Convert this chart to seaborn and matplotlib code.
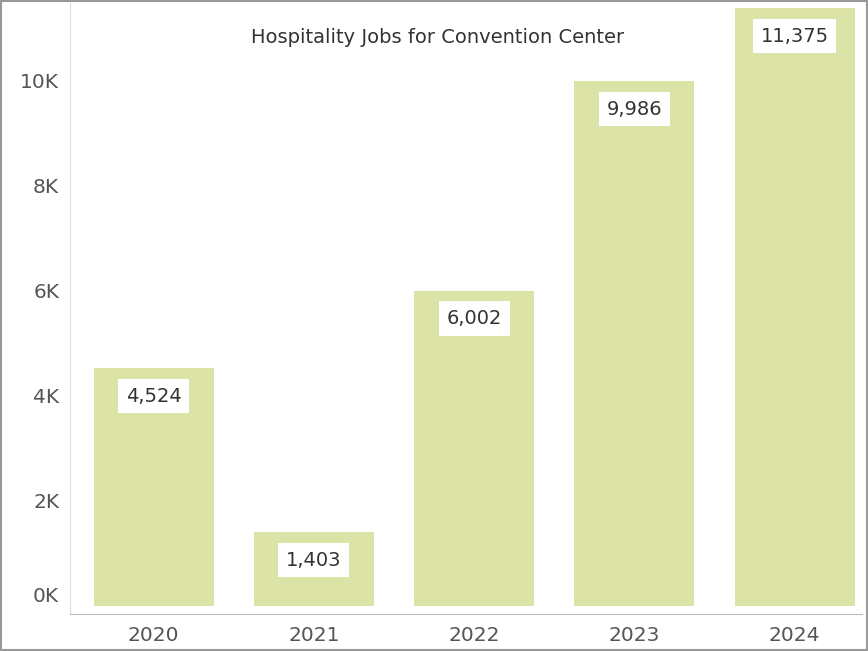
import matplotlib
matplotlib.use("Agg")
import matplotlib.pyplot as plt
import seaborn as sns
import pandas as pd

years = ["2020", "2021", "2022", "2023", "2024"]
jobs = [4524, 1403, 6002, 9986, 11375]
yticks = [0, 2000, 4000, 6000, 8000, 10000]
ytick_labels = ["0K", "2K", "4K", "6K", "8K", "10K"]

df = pd.DataFrame({"year": years, "jobs": jobs})

fig = plt.figure(figsize=(8.68, 6.51), dpi=100)
ax = fig.add_axes([0.081, 0.057, 0.912, 0.938])
sns.barplot(data=df, x="year", y="jobs", color="#dbe4a6", saturation=1, width=0.75, ax=ax)
ax.set_xlim(-0.52, 4.42)
ax.set_ylim(-150, 11470)
ax.set_xlabel("")
ax.set_ylabel("")
ax.set_yticks(yticks)
ax.set_yticklabels(ytick_labels)
ax.get_yticklabels()[0].set_va("bottom")
ax.tick_params(axis="both", length=0, labelsize=14.5, labelcolor="#555555")
ax.tick_params(axis="x", pad=9)
ax.tick_params(axis="y", pad=8)
for s in ["top", "right"]:
    ax.spines[s].set_visible(False)
ax.spines["left"].set_color("#dddddd")
ax.spines["bottom"].set_color("#bbbbbb")

for i, v in enumerate(jobs):
    y = min(v - 530, 10980)
    ax.text(i, y, f"{v:,}", ha="center", va="center", fontsize=14, color="#333333",
            bbox=dict(boxstyle="square,pad=0.4", fc="white", ec="none"))

ax.text(1.77, 10820, "Hospitality Jobs for Convention Center", ha="center", va="center",
        fontsize=14, color="#333333")

fig.patches.append(plt.Rectangle((0.001, 0.001), 0.998, 0.998, transform=fig.transFigure,
                                 fill=False, ec="#999999", lw=1.5))
fig.savefig("out.png", dpi=100)
